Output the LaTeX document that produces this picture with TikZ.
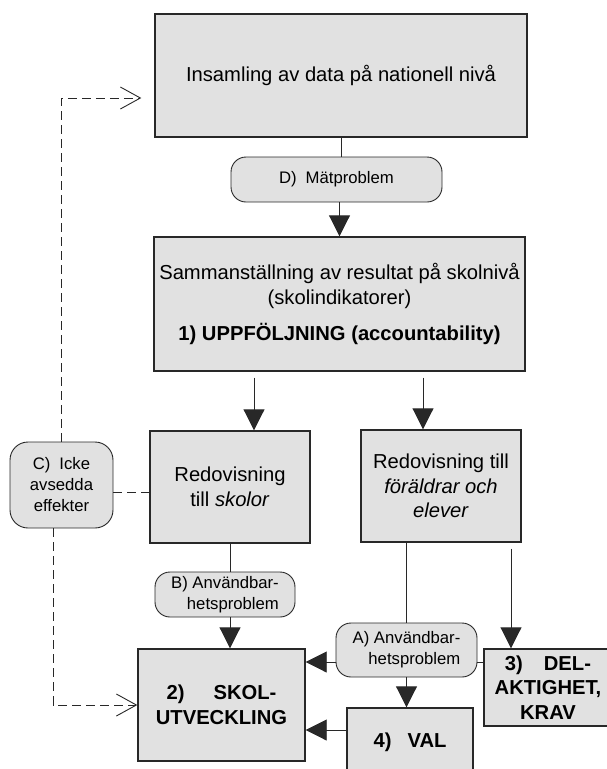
\documentclass[tikz,border=0pt]{standalone}
\usepackage{fontspec}
\setmainfont{Liberation Sans}
\usetikzlibrary{arrows.meta}
\definecolor{boxgray}{RGB}{225,225,225}
\definecolor{linegray}{RGB}{40,40,40}
\newcommand{\bigtext}{\fontsize{20.2pt}{24.5pt}\selectfont}
\newcommand{\smalltext}{\fontsize{16.7pt}{21pt}\selectfont}
\begin{document}
\begin{tikzpicture}[
    x=1pt, y=-1pt,
    every node/.style={align=center, inner sep=0pt},
    box/.style={draw=linegray, line width=1.4pt, fill=boxgray, font=\bigtext},
    pill/.style={draw=linegray, line width=0.9pt, fill=boxgray, rounded corners=15pt, font=\smalltext},
    plain line/.style={draw=linegray, line width=0.9pt},
    solid arrow/.style={plain line, -{Triangle[length=21pt,width=21pt]}},
    dashed line/.style={plain line, dash pattern=on 9pt off 5pt},
    dashed arrow/.style={dashed line, -{Straight Barb[length=20pt,width=22pt]}},
    ]
\useasboundingbox (0,0) rectangle (607,769);
\clip (0,0) rectangle (607,769);
\node[box, minimum width=372pt, minimum height=123pt] (top) at (341,75.5) {Insamling av data på nationell nivå};
\node[pill, minimum width=211pt, minimum height=45pt] (D) at (336.5,179.5) {D)\hspace{9pt}Mätproblem};
\node[box, minimum width=371pt, minimum height=134pt] (data) at (339.5,304) {Sammanställning av resultat på skolnivå\\(skolindikatorer)\\[12pt]\textbf{1) UPPFÖLJNING (accountability)}};
\node[box, minimum width=160pt, minimum height=112pt] (skolor) at (230,487) {Redovisning\\till \textit{skolor}};
\node[box, minimum width=160pt, minimum height=112pt] (foraldrar) at (441,486) {Redovisning till\\\textit{föräldrar och}\\\textit{elever}};
\node[pill, rounded corners=18pt, minimum width=103pt, minimum height=86pt] (C) at (61.5,485) {C)\hspace{9pt}Icke\\avsedda\\effekter};
\node[pill, align=right, minimum width=140pt, minimum height=45pt] (B) at (225,594.5) {B) Användbar-\\hetsproblem};
\node[pill, align=right, minimum width=141pt, minimum height=54pt] (A) at (406.5,650) {A) Användbar-\\hetsproblem};
\node[box, font=\bigtext\bfseries, minimum width=167pt, minimum height=112pt] (utv) at (221.5,705) {2)\hspace{29pt}SKOL-\\UTVECKLING};
\node[box, font=\bigtext\bfseries, minimum width=128pt, minimum height=77pt] (del) at (548,687.5) {3)\hspace{21pt}DEL-\\AKTIGHET,\\KRAV};
\node[box, font=\bigtext\bfseries, minimum width=126pt, minimum height=68pt] (val) at (410,742) {4)\hspace{16pt}VAL};
\coordinate (leftdrop) at (254,0);
\coordinate (rightdrop) at (423,0);
\coordinate (deldrop) at (511,0);
\coordinate (loopout) at (53,0);
\coordinate (loopin) at (0,98);
\coordinate (sidelink) at (0,492);
\coordinate (arow) at (0,662);
\coordinate (vrow) at (0,730);
\draw[plain line] (top.south) -- (top.south |- D.north);
\draw[solid arrow] (D.south -| data.north) -- (data.north);
\draw[solid arrow, shorten <=6pt] (data.south -| leftdrop) -- (skolor.north -| leftdrop);
\draw[solid arrow, shorten <=6pt] (data.south -| rightdrop) -- (foraldrar.north -| rightdrop);
\draw[dashed arrow, shorten >=13pt] (C.north) |- (top.west |- loopin);
\draw[dashed line] (C.east |- sidelink) -- (skolor.west |- sidelink);
\draw[dashed arrow] (C.south -| loopout) |- (utv.west);
\draw[plain line] (skolor.south) -- (skolor.south |- B.north);
\draw[solid arrow] (B.south -| skolor.south) -- (utv.north -| skolor.south);
\draw[plain line] (foraldrar.south -| A.north) -- (A.north);
\draw[solid arrow] (A.south) -- (A.south |- val.north);
\draw[solid arrow] (A.west |- arow) -- (utv.east |- arow);
\draw[plain line] (A.east |- arow) -- (del.west |- arow);
\draw[solid arrow] (val.west |- vrow) -- (utv.east |- vrow);
\draw[solid arrow, shorten <=6pt] (foraldrar.south -| deldrop) -- (del.north -| deldrop);
\end{tikzpicture}
\end{document}
